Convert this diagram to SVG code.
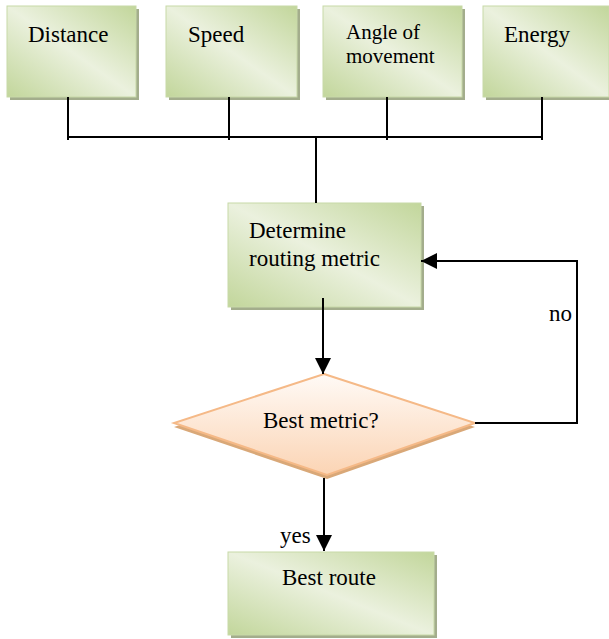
<svg xmlns="http://www.w3.org/2000/svg" width="609" height="639" viewBox="0 0 609 639">
<defs>
<linearGradient id="g" x1="1" y1="0" x2="0" y2="1">
<stop offset="0" stop-color="#c2d69b"/>
<stop offset="0.5" stop-color="#ebf1de"/>
<stop offset="1" stop-color="#c2d69b"/>
</linearGradient>
<linearGradient id="o" x1="0" y1="0" x2="0" y2="1">
<stop offset="0" stop-color="#fffaf6"/>
<stop offset="1" stop-color="#fbd4b4"/>
</linearGradient>
<marker id="ah2" markerWidth="16" markerHeight="16" viewBox="0 0 16 16" refX="16" refY="8" orient="auto" markerUnits="userSpaceOnUse">
<path d="M0,0 L16,8 L0,16 Z" fill="#000"/>
</marker>
</defs>
<style>
.box{fill:url(#g);stroke:#c8d9a8;stroke-width:1}
.sh{fill:#a3ad8c}
.t{font-size:23px;fill:#000}
.c{stroke:#000;stroke-width:2;fill:none}
</style>
<g id="distance">
<rect class="sh" x="10" y="9" width="129" height="91"/>
<rect class="box" x="7" y="6" width="129" height="91"/>
<text class="t" font-family="Liberation Serif, serif" x="28" y="42">Distance</text>
</g>
<g id="speed">
<rect class="sh" x="169" y="9" width="131" height="91"/>
<rect class="box" x="166" y="6" width="131" height="91"/>
<text class="t" font-family="Liberation Serif, serif" x="188" y="42">Speed</text>
</g>
<g id="angle">
<rect class="sh" x="326" y="9" width="139" height="91"/>
<rect class="box" x="323" y="6" width="139" height="91"/>
<text class="t" font-family="Liberation Serif, serif" style="font-size:21px" x="346" y="39">Angle of</text>
<text class="t" font-family="Liberation Serif, serif" style="font-size:21px" x="346" y="63">movement</text>
</g>
<g id="energy">
<rect class="sh" x="486" y="9" width="126" height="91"/>
<rect class="box" x="483" y="6" width="126" height="91"/>
<text class="t" font-family="Liberation Serif, serif" x="504" y="42">Energy</text>
</g>
<g id="determine">
<rect class="sh" x="231" y="206" width="193" height="104"/>
<rect class="box" x="228" y="203" width="193" height="104"/>
<text class="t" font-family="Liberation Serif, serif" x="249" y="238">Determine</text>
<text class="t" font-family="Liberation Serif, serif" x="249" y="266">routing metric</text>
</g>
<g id="decision">
<polygon points="324,378 475,427 327,479 174,427" fill="#d9a878"/>
<polygon points="324,374 475,423 327,475 174,423" fill="url(#o)" stroke="#f5b987" stroke-width="2"/>
<text class="t" font-family="Liberation Serif, serif" x="263" y="428">Best metric?</text>
</g>
<g id="bestroute">
<rect class="sh" x="231" y="555" width="206" height="83"/>
<rect class="box" x="228" y="552" width="206" height="83"/>
<text class="t" font-family="Liberation Serif, serif" x="282" y="585">Best route</text>
</g>
<g id="connectors">
<path class="c" d="M68,97 V140 M229,97 V140 M387,97 V140 M542,97 V140 M68,137 H542 M316,137 V203"/>
<path class="c" d="M323,298 V374" marker-end="url(#ah2)"/>
<path class="c" d="M475,423 H577 V261 H421" marker-end="url(#ah2)"/>
<path class="c" d="M324,478 V551" marker-end="url(#ah2)"/>
<text class="t" font-family="Liberation Serif, serif" x="549" y="321">no</text>
<text class="t" font-family="Liberation Serif, serif" x="280" y="543">yes</text>
</g>
</svg>
